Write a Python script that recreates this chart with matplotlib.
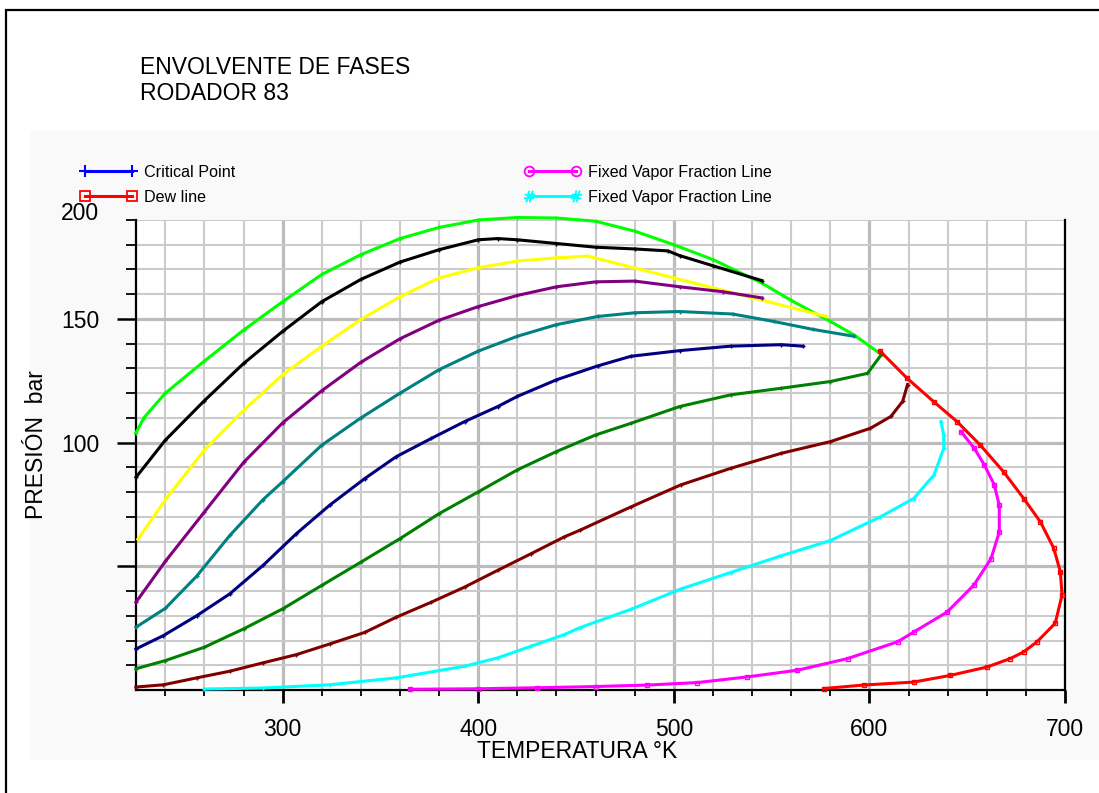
import matplotlib
matplotlib.use('Agg')
import matplotlib.pyplot as plt
from matplotlib.lines import Line2D
from matplotlib.patches import Rectangle
from matplotlib.ticker import FixedLocator, FixedFormatter

# --- DATOS (T en K, P en bar) ---

t_lime = [225, 229, 240, 260, 280, 300, 320, 340, 360, 380, 400, 420, 440, 460,
          480, 500, 520, 545, 560, 580, 592, 606]
p_lime = [104, 110, 120, 133, 145.5, 157, 168, 176, 182.5, 187, 190, 191, 190.8, 189.5,
          185.5, 180, 174, 164.5, 157.5, 149, 143.6, 135.7]

t_black = [225, 240, 260, 280, 300, 320, 340, 360, 380, 400, 410, 420, 440, 460,
           480, 497, 503, 520, 545]
p_black = [86, 101, 117, 132, 145, 157, 166, 173, 178, 182, 182.5, 182, 180.5, 179,
           178.3, 177.5, 175.6, 171.5, 165.5]

t_yellow = [226, 241, 260, 280, 300, 320, 340, 360, 380, 400, 420, 440, 456,
            500, 540, 578]
p_yellow = [61, 78, 97, 113, 127.5, 139, 149.8, 159, 166.6, 170.7, 173.4, 174.7, 175.4,
            166.6, 158.6, 151]

t_purple = [225, 240, 260, 280, 300, 320, 340, 360, 380, 400, 420, 440, 460, 480,
            503, 525, 545]
p_purple = [35.5, 52, 72, 92, 108, 121, 132.5, 142, 149.5, 155, 159.5, 163, 165, 165.3,
            163, 161, 158.5]

t_teal = [225, 240, 256, 273, 290, 300, 320, 340, 360, 380, 400, 420, 440, 461,
          480, 503, 530, 551, 571, 592]
p_teal = [25.4, 33, 46, 62.5, 77, 84.2, 99, 110, 120, 129.5, 137, 143, 147.7, 151,
          152.5, 153, 152, 149, 145.8, 143]

t_navy = [225, 239, 256, 273, 290, 307, 324, 342, 358, 376, 393, 410, 420, 440,
          461, 478, 503, 529, 555, 566]
p_navy = [16.6, 22, 30, 38.9, 50.4, 63.2, 74.7, 85.5, 94.3, 101.7, 108.5, 114.6, 118.7,
          125.4, 131, 134.9, 137.2, 139, 139.6, 139]

t_green = [225, 240, 260, 280, 300, 320, 340, 360, 380, 400, 420, 440, 460, 478,
           503, 529, 555, 580, 599, 606.5]
p_green = [8.6, 11.9, 17.3, 24.7, 32.8, 42.3, 51.7, 61.2, 71.3, 80.1, 89, 96.4, 103.1,
           107.8, 114.6, 119.3, 122, 124.7, 128, 136]

t_maroon = [225, 239, 256, 273, 290, 307, 324, 342, 358, 376, 393, 410, 427, 444,
            452, 478, 503.5, 529, 555, 580, 600.5, 611, 617, 619.5]
p_maroon = [1.2, 2.1, 4.9, 7.6, 11, 14.3, 18.6, 23.3, 29.4, 35.5, 41.6, 48.4, 55.1, 61.9,
            64.6, 74, 82.9, 89.6, 95.7, 100.4, 105.8, 110.6, 116.7, 123.5]

t_cyan = [260, 290, 324, 358, 393, 410, 427, 444, 452, 478, 503.5, 529, 555, 580,
          605.6, 622.6, 633, 638, 638, 636.6]
p_cyan = [0.4, 0.8, 2.1, 4.9, 9.6, 13, 17.7, 22.4, 25.2, 32.6, 40.8, 47.5, 54.3, 60.4,
          70, 77.4, 86.9, 97.7, 103, 108.5]

t_magenta = [365, 400, 430, 460, 486.5, 512, 537.6, 563.2, 588.8, 614.4, 622.6, 639.7,
             653.3, 662.2, 666.4, 666.4, 663.8, 658.7, 653.6, 646.8]
p_magenta = [0.3, 0.5, 0.9, 1.4, 2, 3, 5.3, 8, 12.7, 19.5, 23.4, 31.5,
             42.3, 53.1, 63.9, 74.7, 83, 91.1, 97.7, 104.5]

t_red = [576.7, 597, 622.6, 641.4, 660.2, 672, 678.9, 685.7, 695, 698.5, 697.6, 694.2,
         687.4, 678.9, 668.6, 656.7, 644.8, 632.8, 619.3, 605.6]
p_red = [0.6, 2, 3.2, 5.9, 9.3, 12.7, 15.4, 19.5, 27, 38.4, 47.9, 57.4,
         68, 77.4, 88.2, 99, 108.5, 116.6, 126, 136.9]

legend_labels = ['Critical Point', 'Dew line', 'Fixed Vapor Fraction Line', 'Fixed Vapor Fraction Line']

x_major = [300, 400, 500, 600, 700]
x_minor = [240, 260, 280, 320, 340, 360, 380, 420, 440, 460, 480,
           520, 540, 560, 580, 620, 640, 660, 680]
y_major = [50, 100, 150]
y_major_labels = ['', '100', '150']
y_minor = [10, 20, 30, 40, 60, 70, 80, 90, 110, 120, 130, 140, 160, 170, 180, 190]

W, H = 1099, 793
BIG = 16.5


def fx(px):
    return px / W


def fy(py):
    return 1 - py / H


plt.rcParams['font.family'] = ['Liberation Sans', 'DejaVu Sans']

fig = plt.figure(figsize=(W / 100, H / 100), dpi=100)

# panel gris claro (detras de todo) y marco exterior
fig.patches.append(Rectangle((fx(30), fy(760)), 1.0, fy(130) - fy(760), transform=fig.transFigure,
                             facecolor='#f9f9f9', edgecolor='none', zorder=-5))
fig.patches.append(Rectangle((fx(6), -0.05), 1.1, fy(10) + 0.05, transform=fig.transFigure,
                             facecolor='none', edgecolor='black', lw=1.6, zorder=5))

ax = fig.add_axes([fx(136), fy(690), fx(1065 - 136), (690 - 220) / H])
ax.set_facecolor('white')

curves = [
    (t_lime, p_lime, '#00ff00', '+'),
    (t_black, p_black, 'black', '+'),
    (t_yellow, p_yellow, '#ffff00', '+'),
    (t_purple, p_purple, '#800080', '+'),
    (t_teal, p_teal, '#008080', '+'),
    (t_navy, p_navy, '#000080', '+'),
    (t_green, p_green, '#008000', '+'),
    (t_maroon, p_maroon, '#800000', '+'),
    (t_cyan, p_cyan, '#00ffff', '+'),
    (t_magenta, p_magenta, '#ff00ff', 's'),
    (t_red, p_red, '#ff0000', 's'),
]
for t, p, c, m in curves:
    ax.plot(t, p, color=c, lw=2.2, marker=m, ms=3.5, mew=1.0,
            mfc='none' if m == 's' else c, zorder=3, clip_on=False)

ax.set_xlim(225, 700)
ax.set_ylim(0, 190)

ax.xaxis.set_major_locator(FixedLocator(x_major))
ax.xaxis.set_minor_locator(FixedLocator(x_minor))
ax.yaxis.set_major_locator(FixedLocator(y_major))
ax.yaxis.set_major_formatter(FixedFormatter(y_major_labels))
ax.yaxis.set_minor_locator(FixedLocator(y_minor))

ax.grid(which='minor', color='#cbcbcb', lw=1.5, zorder=0)
ax.grid(which='major', color='#bcbcbc', lw=2.3, zorder=0)
ax.set_axisbelow(True)

ax.tick_params(axis='x', which='major', length=9, width=2, pad=11, labelsize=BIG)
ax.tick_params(axis='x', which='minor', length=4, width=1.3)
ax.tick_params(axis='y', which='major', length=14, width=1.8, pad=12, labelsize=BIG)
ax.tick_params(axis='y', which='minor', length=7.5, width=1.3)

ax.spines['top'].set_visible(False)
for s in ['left', 'bottom', 'right']:
    ax.spines[s].set_linewidth(1.6)

ax.text(-37 / (1065 - 136), 1.0 + 7 / 470, '200', transform=ax.transAxes,
        ha='right', va='center', fontsize=BIG)

# titulos y etiquetas
fig.text(fx(140), fy(68), 'ENVOLVENTE DE FASES', fontsize=BIG, va='center', ha='left')
fig.text(fx(140), fy(94), 'RODADOR 83', fontsize=BIG, va='center', ha='left')
fig.text(fx(577), fy(751), 'TEMPERATURA °K', fontsize=BIG, ha='center', va='center')
fig.text(fx(37), fy(445), 'PRESIÓN  bar', fontsize=BIG, ha='center', va='center', rotation=90)

# leyenda en dos columnas
h1 = [Line2D([], [], color='#0000ff', lw=2.2, marker='+', ms=9, mew=1.5),
      Line2D([], [], color='#ff0000', lw=2.2, marker='s', ms=7, mfc='none', mew=1.3)]
h2 = [Line2D([], [], color='#ff00ff', lw=2.2, marker='o', ms=7, mfc='none', mew=1.3),
      Line2D([], [], color='#00ffff', lw=2.2, marker='$\\#$', ms=8, mew=0.5)]
leg_kw = dict(frameon=False, fontsize=11.6, handlelength=3.5, handletextpad=0.45,
              labelspacing=0.6, borderpad=0, borderaxespad=0, numpoints=2,
              loc='upper left')
fig.legend(h1, legend_labels[:2], bbox_to_anchor=(fx(80), fy(165)), **leg_kw)
fig.legend(h2, legend_labels[2:], bbox_to_anchor=(fx(524), fy(165)), **leg_kw)

fig.savefig('out.png', dpi=100)
print('saved out.png')
